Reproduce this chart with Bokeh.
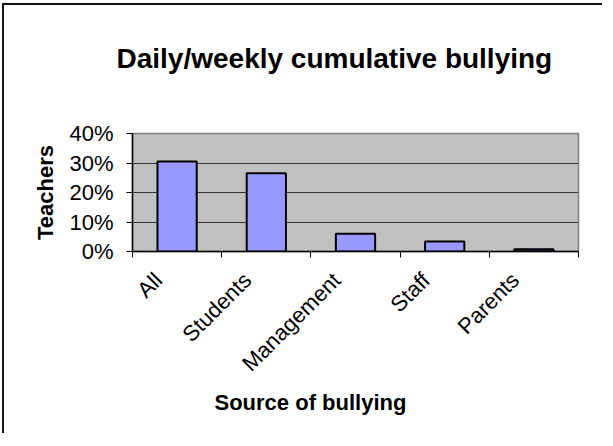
import math
import numpy as np
from bokeh.plotting import figure
from bokeh.models import FixedTicker, NumeralTickFormatter, Range1d, Title
from bokeh.embed import file_html
from bokeh.resources import INLINE

categories = ["All", "Students", "Management", "Staff", "Parents"]
values = [0.305, 0.265, 0.060, 0.034, 0.008]
y_ticks = [0.0, 0.1, 0.2, 0.3, 0.4]
title_text = "Daily/weekly cumulative bullying"
x_title = "Source of bullying"
y_title = "Teachers"

FONT = "Liberation Sans"

centers = np.arange(len(categories)) + 0.5
bounds = list(range(len(categories) + 1))
label_pos = [round(float(c) - 0.21, 3) for c in centers]

p = figure(width=600, height=430, title=None,
           x_range=Range1d(0, len(categories)), y_range=Range1d(0, 0.4),
           output_backend="svg", toolbar_location=None,
           min_border_left=128, min_border_right=26,
           min_border_top=128, min_border_bottom=184)

p.background_fill_color = "#C0C0C0"
p.border_fill_color = "white"
p.outline_line_color = "#808080"
p.outline_line_width = 1.5

p.vbar(x=centers, top=values, width=0.44, bottom=0,
       fill_color="#9999FF", line_color="black", line_width=2)

# spacer between frame and title, then the title itself
p.add_layout(Title(text=" ", text_font_size="2px", standoff=54), "above")
p.add_layout(Title(text=title_text, align="left", offset=-16, standoff=0,
                   vertical_align="top", text_font=FONT, text_color="black",
                   text_font_size="28px", text_font_style="bold"), "above")

# x axis
xa = p.xaxis[0]
xa.ticker = FixedTicker(ticks=label_pos, minor_ticks=bounds)
xa.major_label_overrides = {lp: n for lp, n in zip(label_pos, categories)}
xa.major_label_orientation = math.pi / 4
xa.major_tick_out = 0
xa.major_tick_in = 0
xa.minor_tick_out = 6
xa.minor_tick_in = 0
xa.minor_tick_line_color = "black"
xa.axis_line_color = "black"
xa.axis_line_width = 1.5
xa.major_label_text_font = FONT
xa.major_label_text_font_size = "22px"
xa.major_label_text_color = "black"
xa.major_label_standoff = 19

p.add_layout(Title(text=x_title, align="left", offset=82, standoff=0,
                   text_font=FONT, text_font_size="22px", text_color="black",
                   text_font_style="bold"), "below")

# y axis
ya = p.yaxis[0]
ya.ticker = FixedTicker(ticks=y_ticks)
ya.formatter = NumeralTickFormatter(format="0%")
ya.major_tick_out = 6
ya.major_tick_in = 0
ya.minor_tick_out = 0
ya.minor_tick_in = 0
ya.major_tick_line_color = "black"
ya.axis_line_color = "black"
ya.axis_line_width = 1.5
ya.major_label_text_font = FONT
ya.major_label_text_font_size = "22px"
ya.major_label_text_color = "black"
ya.major_label_standoff = 13
ya.axis_label = y_title
ya.axis_label_text_font = FONT
ya.axis_label_text_font_size = "22px"
ya.axis_label_text_font_style = "bold"
ya.axis_label_text_color = "black"
ya.axis_label_standoff = 8

p.xgrid.visible = False
p.ygrid.ticker = FixedTicker(ticks=y_ticks)
p.ygrid.grid_line_color = "#333333"
p.ygrid.grid_line_width = 1.2

p.styles = {"border-top": "2px solid #111", "border-left": "2px solid #111",
            "margin-left": "2px", "margin-top": "3px"}

open("out.html", "w").write(file_html(p, INLINE))
